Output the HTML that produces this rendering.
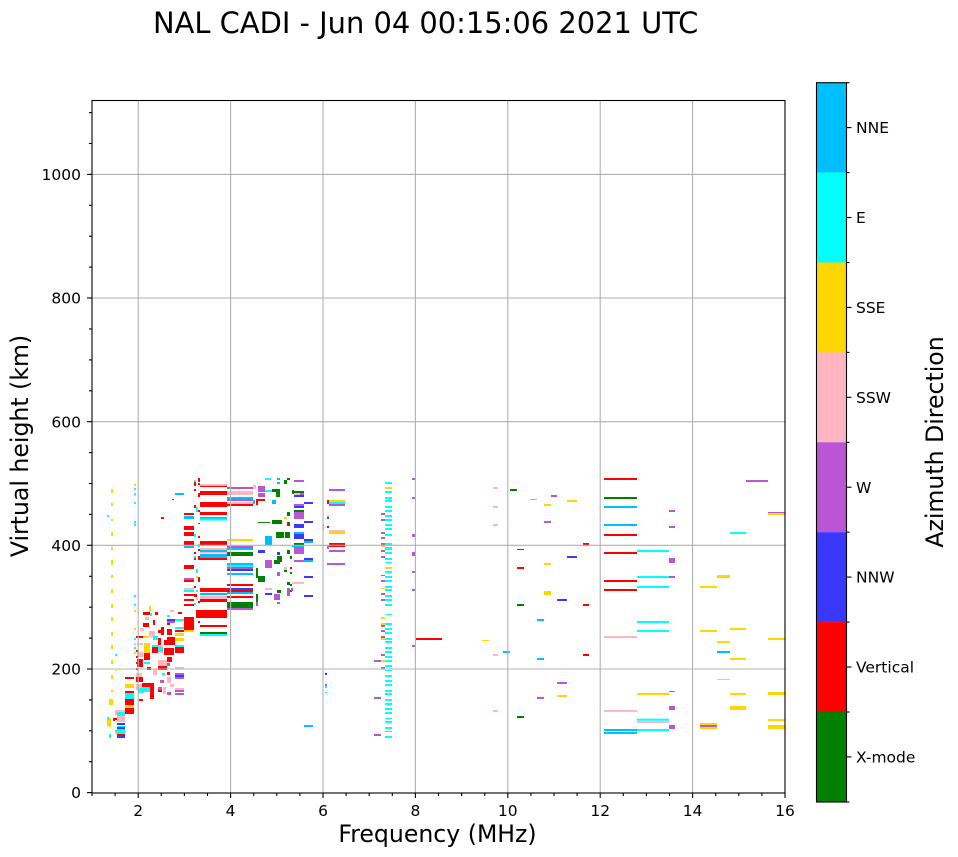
<!DOCTYPE html>
<html>
<head>
<meta charset="utf-8">
<style>
html,body{margin:0;padding:0;background:#fff;}
svg{display:block;font-family:"DejaVu Sans","Liberation Sans",sans-serif;}
.g{fill:#008000}.r{fill:#ff0000}.b{fill:#3838ff}.p{fill:#ba55d3}.k{fill:#ffb6c1}.y{fill:#ffd700}.c{fill:#00ffff}.s{fill:#00bfff}
.grid line{stroke:#b0b0b0;stroke-width:1.1}
.tk line{stroke:#000;stroke-width:1.1}
.tl{font-size:15.5px;fill:#000}
</style>
</head>
<body>
<svg width="958" height="857" viewBox="0 0 958 857" xmlns="http://www.w3.org/2000/svg">
<rect x="0" y="0" width="958" height="857" fill="#fff"/>
<text x="153" y="33" font-size="28.9" fill="#000">NAL CADI - Jun 04 00:15:06 2021 UTC</text>

<!-- DATA -->
<g>
<!-- 1.45 MHz yellow column -->
<rect class="y" x="111" y="489" width="2" height="4"/><rect class="y" x="111" y="503" width="2" height="3"/><rect class="y" x="111" y="519" width="2" height="2"/><rect class="y" x="111" y="532" width="2" height="4"/><rect class="y" x="111" y="547" width="2" height="3"/><rect class="y" x="111" y="560" width="2" height="5"/><rect class="y" x="111" y="575" width="2" height="3"/><rect class="y" x="111" y="589" width="2" height="4"/><rect class="y" x="111" y="604" width="2" height="4"/><rect class="y" x="111" y="617" width="2" height="4"/><rect class="y" x="111" y="632" width="2" height="4"/><rect class="y" x="111" y="645" width="2" height="4"/><rect class="y" x="111" y="660" width="2" height="4"/><rect class="y" x="111" y="675" width="2" height="4"/><rect class="y" x="111" y="690" width="2" height="2"/><rect class="y" x="111" y="699" width="2" height="6"/>
<!-- 1.95 column -->
<rect class="y" x="134" y="484" width="2" height="2"/><rect class="c" x="134" y="488" width="2" height="2"/><rect class="c" x="134" y="493" width="2" height="2"/><rect class="c" x="134" y="502" width="2" height="2"/><rect class="c" x="134" y="521" width="2" height="2"/><rect class="c" x="134" y="524" width="2" height="2"/><rect class="c" x="134" y="595" width="2" height="2"/><rect class="c" x="134" y="604" width="2" height="2"/><rect class="y" x="134" y="610" width="2" height="2"/><rect class="y" x="134" y="628" width="2" height="2"/><rect class="c" x="134" y="638" width="2" height="2"/><rect class="k" x="134" y="643" width="2" height="2"/><rect class="c" x="134" y="647" width="2" height="2"/><rect class="y" x="134" y="652" width="2" height="2"/>
<rect class="c" x="107" y="515" width="2" height="2"/><rect class="c" x="115" y="654" width="2" height="2"/><rect class="y" x="115" y="670" width="2" height="1"/>
<!-- low cluster -->
<rect class="r" x="125" y="677" width="9" height="2"/><rect class="y" x="125" y="684" width="9" height="4"/><rect class="r" x="125" y="691" width="9" height="2"/><rect class="c" x="125" y="693" width="9" height="6"/><rect class="r" x="125" y="699" width="9" height="6"/><rect class="y" x="125" y="705" width="9" height="3"/><rect class="r" x="125" y="708" width="9" height="6"/>
<rect class="k" x="115" y="710" width="10" height="2"/><rect class="c" x="117" y="712" width="8" height="4"/><rect class="k" x="117" y="716" width="8" height="2"/><rect class="r" x="113" y="718" width="4" height="2"/><rect class="k" x="117" y="718" width="8" height="4"/><rect class="b" x="117" y="723" width="8" height="2"/><rect class="c" x="117" y="726" width="8" height="2"/><rect class="b" x="117" y="727" width="8" height="2"/><rect class="c" x="117" y="729" width="8" height="5"/><rect class="r" x="117" y="734" width="8" height="2"/><rect class="b" x="117" y="736" width="8" height="2"/>
<rect class="y" x="109" y="699" width="2" height="6"/><rect class="y" x="107" y="718" width="4" height="8"/><rect class="c" x="107" y="717" width="2" height="3"/><rect class="y" x="109" y="722" width="2" height="5"/><rect class="c" x="109" y="734" width="2" height="4"/><rect class="c" x="115" y="730" width="2" height="4"/><rect class="y" x="115" y="732" width="2" height="2"/><rect class="k" x="115" y="710" width="2" height="5"/><rect class="r" x="113" y="719" width="2" height="2"/>
<!-- middle cluster -->
<rect class="r" x="136" y="636" width="9" height="2"/><rect class="y" x="143" y="636" width="6" height="2"/><rect class="k" x="137" y="643" width="6" height="2"/><rect class="r" x="143" y="612" width="7" height="3"/><rect class="y" x="149" y="606" width="2" height="6"/><rect class="c" x="150" y="613" width="2" height="3"/><rect class="r" x="143" y="623" width="6" height="4"/><rect class="r" x="153" y="620" width="2" height="5"/>
<rect class="c" x="167" y="615" width="3" height="2"/><rect class="b" x="167" y="619" width="8" height="2"/><rect class="c" x="175" y="619" width="9" height="2"/><rect class="p" x="167" y="621" width="8" height="2"/><rect class="r" x="167" y="623" width="3" height="2"/>
<rect class="r" x="161" y="627" width="3" height="8"/><rect class="r" x="167" y="629" width="5" height="6"/><rect class="c" x="175" y="627" width="9" height="2"/><rect class="r" x="175" y="630" width="9" height="2"/><rect class="y" x="175" y="633" width="9" height="3"/><rect class="y" x="175" y="638" width="9" height="3"/><rect class="c" x="175" y="645" width="9" height="3"/><rect class="r" x="175" y="647" width="9" height="6"/>
<rect class="k" x="149" y="631" width="6" height="6"/><rect class="c" x="153" y="636" width="5" height="4"/><rect class="r" x="158" y="638" width="3" height="7"/><rect class="r" x="164" y="640" width="3" height="5"/><rect class="r" x="167" y="637" width="8" height="8"/>
<rect class="y" x="144" y="643" width="6" height="4"/><rect class="y" x="144" y="647" width="6" height="6"/><rect class="r" x="144" y="653" width="6" height="7"/><rect class="c" x="144" y="662" width="6" height="2"/><rect class="k" x="137" y="652" width="6" height="5"/><rect class="r" x="137" y="659" width="6" height="8"/>
<rect class="c" x="152" y="645" width="7" height="8"/><rect class="r" x="152" y="647" width="7" height="6"/><rect class="k" x="158" y="646" width="5" height="7"/><rect class="c" x="158" y="647" width="5" height="5"/><rect class="r" x="164" y="648" width="10" height="7"/><rect class="r" x="167" y="657" width="5" height="5"/>
<rect class="k" x="153" y="669" width="4" height="6"/><rect class="k" x="158" y="660" width="9" height="6"/><rect class="r" x="158" y="666" width="9" height="4"/><rect class="p" x="167" y="663" width="3" height="3"/><rect class="r" x="167" y="672" width="3" height="3"/>
<rect class="k" x="175" y="667" width="9" height="2"/><rect class="p" x="175" y="673" width="9" height="6"/><rect class="b" x="175" y="675" width="9" height="2"/><rect class="k" x="167" y="677" width="4" height="6"/><rect class="k" x="175" y="688" width="9" height="2"/><rect class="p" x="175" y="690" width="9" height="2"/><rect class="p" x="175" y="693" width="9" height="2"/><rect class="p" x="167" y="692" width="4" height="3"/>
<rect class="k" x="136" y="673" width="6" height="4"/><rect class="r" x="136" y="677" width="7" height="5"/><rect class="r" x="142" y="683" width="8" height="9"/><rect class="c" x="142" y="687" width="8" height="5"/><rect class="r" x="150" y="683" width="4" height="16"/><rect class="k" x="136" y="684" width="6" height="6"/><rect class="c" x="138" y="688" width="5" height="5"/><rect class="r" x="139" y="699" width="4" height="2"/><rect class="p" x="158" y="687" width="4" height="3"/><rect class="k" x="163" y="687" width="3" height="7"/><rect class="r" x="158" y="690" width="4" height="2"/>
<rect class="r" x="136" y="650" width="2" height="2"/><rect class="r" x="136" y="656" width="2" height="2"/><rect class="r" x="136" y="662" width="2" height="2"/><rect class="r" x="136" y="668" width="2" height="2"/>
<rect class="k" x="145" y="617" width="4" height="3"/><rect class="r" x="155" y="612" width="3" height="3"/><rect class="k" x="170" y="610" width="4" height="2"/><rect class="r" x="178" y="612" width="4" height="2"/><rect class="p" x="160" y="680" width="4" height="3"/><rect class="k" x="170" y="684" width="4" height="3"/><rect class="r" x="147" y="667" width="4" height="3"/><rect class="c" x="162" y="673" width="3" height="2"/><rect class="k" x="140" y="628" width="4" height="3"/><rect class="r" x="158" y="630" width="3" height="3"/>
<rect class="r" x="161" y="517" width="3" height="2"/><rect class="r" x="172" y="499" width="2" height="1"/><rect class="s" x="175" y="493" width="9" height="2"/>
<!-- 3.0-3.2 column -->
<rect class="r" x="184" y="513" width="10" height="2"/><rect class="s" x="184" y="516" width="10" height="3"/><rect class="r" x="184" y="526" width="10" height="4"/><rect class="r" x="184" y="532" width="10" height="4"/><rect class="r" x="184" y="541" width="10" height="4"/><rect class="s" x="184" y="546" width="10" height="2"/><rect class="r" x="184" y="565" width="10" height="4"/><rect class="p" x="184" y="578" width="10" height="2"/><rect class="r" x="184" y="580" width="10" height="2"/><rect class="k" x="184" y="588" width="10" height="2"/><rect class="c" x="184" y="590" width="10" height="2"/><rect class="r" x="184" y="594" width="10" height="2"/><rect class="r" x="184" y="599" width="10" height="2"/><rect class="r" x="184" y="604" width="10" height="2"/><rect class="r" x="184" y="617" width="10" height="13"/><rect class="y" x="184" y="630" width="10" height="2"/>
<!-- 3.2-3.4 column -->
<rect class="r" x="198" y="478" width="2" height="4"/><rect class="c" x="194" y="480" width="2" height="2"/><rect class="r" x="194" y="482" width="2" height="4"/><rect class="r" x="198" y="483" width="2" height="2"/><rect class="r" x="194" y="489" width="2" height="2"/><rect class="r" x="198" y="493" width="2" height="4"/><rect class="r" x="194" y="505" width="2" height="3"/><rect class="c" x="196" y="507" width="2" height="5"/><rect class="r" x="198" y="510" width="2" height="2"/><rect class="r" x="198" y="523" width="2" height="1"/><rect class="c" x="194" y="534" width="2" height="3"/><rect class="r" x="198" y="536" width="2" height="2"/><rect class="c" x="198" y="544" width="2" height="3"/><rect class="r" x="198" y="549" width="2" height="2"/><rect class="r" x="194" y="552" width="2" height="2"/><rect class="r" x="198" y="556" width="2" height="4"/><rect class="c" x="194" y="556" width="2" height="2"/><rect class="r" x="194" y="558" width="2" height="2"/><rect class="c" x="196" y="569" width="2" height="4"/><rect class="r" x="198" y="577" width="2" height="5"/><rect class="y" x="196" y="576" width="2" height="2"/><rect class="r" x="194" y="586" width="2" height="2"/><rect class="c" x="196" y="590" width="2" height="2"/><rect class="r" x="194" y="594" width="3" height="3"/><rect class="k" x="196" y="598" width="2" height="2"/><rect class="r" x="198" y="601" width="2" height="2"/><rect class="c" x="194" y="603" width="2" height="2"/><rect class="r" x="196" y="610" width="4" height="8"/><rect class="r" x="198" y="621" width="2" height="2"/>
<!-- 3.4-4.0 block -->
<rect class="k" x="200" y="484" width="27" height="2"/><rect class="r" x="200" y="486" width="27" height="1"/><rect class="r" x="200" y="491" width="27" height="4"/><rect class="r" x="200" y="502" width="27" height="5"/><rect class="r" x="200" y="512" width="27" height="3"/><rect class="s" x="200" y="517" width="27" height="1.5"/><rect class="c" x="200" y="518.5" width="27" height="2"/><rect class="r" x="200" y="541" width="27" height="4"/><rect class="k" x="200" y="548" width="27" height="2"/><rect class="s" x="200" y="550" width="27" height="2"/><rect class="k" x="200" y="552" width="27" height="1.5"/><rect class="s" x="200" y="554" width="27" height="4"/><rect class="r" x="200" y="558" width="27" height="2"/><rect class="r" x="200" y="588" width="27" height="3"/><rect class="b" x="200" y="591" width="27" height="1"/><rect class="s" x="200" y="593" width="27" height="2"/><rect class="k" x="200" y="596" width="27" height="3"/><rect class="r" x="200" y="599" width="27" height="3"/><rect class="r" x="200" y="610" width="27" height="4"/><rect class="r" x="200" y="614" width="27" height="4"/><rect class="r" x="200" y="625" width="27" height="2"/><rect class="g" x="200" y="632" width="27" height="2"/><rect class="c" x="200" y="634" width="27" height="2"/>
<!-- 4.0-4.6 block -->
<rect class="p" x="227" y="487" width="26" height="2"/><rect class="k" x="227" y="491" width="26" height="4"/><rect class="s" x="227" y="497" width="26" height="2"/><rect class="p" x="227" y="499" width="26" height="2"/><rect class="k" x="227" y="502" width="26" height="2"/><rect class="r" x="227" y="504" width="26" height="2"/><rect class="y" x="227" y="539" width="26" height="2"/><rect class="p" x="227" y="546" width="26" height="2"/><rect class="s" x="227" y="548" width="26" height="2"/><rect class="g" x="227" y="552" width="26" height="4"/><rect class="s" x="227" y="563" width="26" height="2"/><rect class="c" x="227" y="565" width="26" height="2"/><rect class="p" x="227" y="567" width="26" height="2"/><rect class="b" x="227" y="569" width="26" height="2"/><rect class="s" x="227" y="573" width="26" height="2"/><rect class="r" x="227" y="584" width="26" height="2"/><rect class="b" x="227" y="588" width="26" height="2"/><rect class="r" x="227" y="590" width="26" height="2"/><rect class="s" x="227" y="592" width="26" height="2"/><rect class="r" x="227" y="596" width="26" height="2"/><rect class="g" x="227" y="602" width="26" height="6"/><rect class="p" x="227" y="608" width="26" height="2"/>
<!-- 4.6-5.7 scattered -->
<rect class="g" x="272" y="520" width="10" height="4"/><rect class="g" x="258" y="522" width="12" height="1"/><rect class="g" x="276" y="532" width="8" height="6"/><rect class="g" x="285" y="532" width="5" height="6"/><rect class="g" x="287" y="512" width="3" height="4"/><rect class="g" x="287" y="522" width="3" height="4"/><rect class="g" x="277" y="556" width="5" height="6"/><rect class="g" x="274" y="560" width="6" height="4"/><rect class="g" x="258" y="576" width="7" height="6"/><rect class="g" x="256" y="568" width="2" height="10"/><rect class="g" x="287" y="550" width="3" height="4"/><rect class="g" x="284" y="569" width="3" height="3"/><rect class="g" x="287" y="582" width="3" height="3"/><rect class="g" x="256" y="594" width="2" height="8"/><rect class="g" x="277" y="590" width="4" height="3"/><rect class="g" x="272" y="489" width="8" height="3"/><rect class="g" x="276" y="492" width="4" height="5"/><rect class="g" x="287" y="478" width="3" height="2"/><rect class="g" x="284" y="480" width="3" height="4"/><rect class="g" x="292" y="491" width="12" height="2"/><rect class="g" x="292" y="490" width="2" height="4"/><rect class="g" x="294" y="510" width="10" height="2"/><rect class="g" x="294" y="543" width="10" height="2"/><rect class="g" x="290" y="556" width="2" height="3"/><rect class="g" x="290" y="572" width="2" height="2"/><rect class="g" x="290" y="584" width="2" height="2"/><rect class="g" x="290" y="590" width="2" height="2"/>
<rect class="p" x="265" y="560" width="7" height="8"/><rect class="p" x="277" y="572" width="3" height="4"/><rect class="p" x="287" y="588" width="3" height="8"/><rect class="p" x="274" y="594" width="6" height="6"/><rect class="p" x="277" y="602" width="3" height="2"/><rect class="p" x="294" y="512" width="10" height="7"/><rect class="p" x="294" y="547" width="10" height="7"/><rect class="p" x="294" y="560" width="10" height="2"/><rect class="p" x="256" y="602" width="2" height="4"/><rect class="p" x="258" y="486" width="7" height="6"/><rect class="p" x="258" y="493" width="7" height="4"/><rect class="p" x="294" y="480" width="10" height="2"/><rect class="p" x="294" y="493" width="10" height="2"/><rect class="p" x="294" y="504" width="10" height="2"/><rect class="p" x="291" y="588" width="2" height="3"/>
<rect class="b" x="294" y="524" width="10" height="4"/><rect class="b" x="294" y="534" width="10" height="5"/><rect class="b" x="258" y="550" width="7" height="3"/><rect class="b" x="265" y="593" width="7" height="2"/><rect class="b" x="277" y="552" width="3" height="3"/><rect class="b" x="294" y="495" width="10" height="2"/><rect class="b" x="294" y="506" width="10" height="2"/>
<rect class="b" x="304" y="502" width="9" height="2"/><rect class="b" x="304" y="521" width="9" height="2"/><rect class="b" x="304" y="539" width="9" height="2"/><rect class="b" x="304" y="558" width="9" height="2"/><rect class="b" x="304" y="576" width="9" height="2"/><rect class="b" x="304" y="595" width="9" height="2"/>
<rect class="s" x="265" y="536" width="7" height="9"/><rect class="s" x="272" y="500" width="4" height="4"/><rect class="s" x="294" y="532" width="10" height="2"/><rect class="s" x="304" y="541" width="9" height="2"/><rect class="s" x="304" y="560" width="9" height="2"/><rect class="s" x="292" y="545" width="12" height="2"/><rect class="s" x="253" y="500" width="2" height="4"/><rect class="s" x="277" y="478" width="3" height="2"/><rect class="s" x="277" y="482" width="3" height="2"/><rect class="s" x="304" y="725" width="9" height="2"/>
<rect class="c" x="265" y="478" width="6" height="2"/><rect class="c" x="265" y="490" width="7" height="2"/>
<rect class="k" x="265" y="588" width="7" height="2"/><rect class="k" x="292" y="582" width="12" height="2"/><rect class="k" x="284" y="567" width="3" height="3"/><rect class="k" x="253" y="485" width="3" height="4"/><rect class="k" x="294" y="493" width="6" height="2"/>
<rect class="r" x="256" y="499" width="2" height="6"/><rect class="r" x="287" y="524" width="2" height="2"/><rect class="r" x="258" y="499" width="7" height="2"/><rect class="r" x="290" y="567" width="2" height="2"/>
<rect class="y" x="284" y="517" width="3" height="2"/>
<!-- 6.0-6.5 -->
<rect class="p" x="329" y="489" width="16" height="2"/><rect class="r" x="327" y="500" width="2" height="4"/><rect class="y" x="329" y="500" width="16" height="2"/><rect class="c" x="329" y="502" width="16" height="2"/><rect class="p" x="329" y="504" width="16" height="2"/><rect class="k" x="327" y="515" width="2" height="2"/><rect class="b" x="327" y="517" width="2" height="2"/><rect class="r" x="327" y="526" width="2" height="2"/><rect class="k" x="329" y="530" width="16" height="2"/><rect class="y" x="329" y="532" width="16" height="2"/><rect class="r" x="329" y="543" width="16" height="2"/><rect class="r" x="329" y="545" width="16" height="2"/><rect class="p" x="327" y="546" width="2" height="3"/><rect class="p" x="329" y="550" width="16" height="2"/><rect class="p" x="327" y="563" width="18" height="2"/><rect class="c" x="323" y="524" width="1" height="6"/>
<rect class="b" x="325" y="673" width="2" height="2"/><rect class="p" x="325" y="684" width="2" height="2"/><rect class="c" x="325" y="686" width="2" height="2"/><rect class="c" x="325" y="692" width="2" height="1"/>
<!-- 7.3 column -->
<rect class="c" x="385" y="482" width="7" height="2"/><rect class="c" x="385" y="491" width="7" height="2"/><rect class="c" x="385" y="497" width="7" height="2"/><rect class="c" x="385" y="500" width="7" height="2"/><rect class="c" x="385" y="506" width="7" height="2"/><rect class="c" x="385" y="510" width="7" height="2"/><rect class="c" x="385" y="515" width="7" height="2"/><rect class="c" x="385" y="519" width="7" height="2"/><rect class="c" x="385" y="524" width="7" height="2"/><rect class="c" x="385" y="528" width="7" height="2"/><rect class="c" x="385" y="534" width="7" height="2"/><rect class="c" x="385" y="543" width="7" height="2"/><rect class="c" x="385" y="547" width="7" height="3"/><rect class="c" x="385" y="552" width="7" height="2"/><rect class="c" x="385" y="558" width="7" height="2"/><rect class="c" x="385" y="562" width="7" height="1"/><rect class="c" x="385" y="571" width="7" height="2"/><rect class="c" x="385" y="576" width="7" height="2"/><rect class="c" x="385" y="580" width="7" height="2"/><rect class="c" x="385" y="586" width="7" height="2"/><rect class="c" x="385" y="589" width="7" height="2"/><rect class="c" x="385" y="595" width="7" height="2"/><rect class="c" x="385" y="599" width="7" height="2"/><rect class="c" x="385" y="604" width="7" height="2"/><rect class="c" x="385" y="614" width="7" height="1"/><rect class="c" x="385" y="623" width="7" height="2"/><rect class="c" x="385" y="628" width="7" height="2"/><rect class="c" x="385" y="632" width="7" height="2"/><rect class="c" x="385" y="638" width="7" height="2"/><rect class="c" x="385" y="641" width="7" height="2"/><rect class="c" x="385" y="647" width="7" height="2"/><rect class="c" x="385" y="651" width="7" height="2"/><rect class="c" x="385" y="656" width="7" height="2"/><rect class="c" x="385" y="660" width="7" height="2"/><rect class="c" x="385" y="665" width="7" height="2"/><rect class="c" x="385" y="670" width="7" height="1"/><rect class="c" x="385" y="675" width="7" height="2"/><rect class="c" x="385" y="680" width="7" height="2"/><rect class="c" x="385" y="684" width="7" height="2"/><rect class="c" x="385" y="690" width="7" height="2"/><rect class="c" x="385" y="693" width="7" height="2"/><rect class="c" x="385" y="699" width="7" height="2"/><rect class="c" x="385" y="703" width="7" height="2"/><rect class="c" x="385" y="708" width="7" height="2"/><rect class="c" x="385" y="712" width="7" height="2"/><rect class="c" x="385" y="718" width="7" height="1"/><rect class="c" x="385" y="721" width="7" height="2"/><rect class="c" x="385" y="727" width="7" height="2"/><rect class="c" x="385" y="731" width="7" height="1"/><rect class="c" x="385" y="736" width="7" height="2"/>
<rect class="y" x="385" y="487" width="7" height="2"/><rect class="y" x="385" y="567" width="7" height="2"/>
<rect class="p" x="381" y="513" width="4" height="2"/><rect class="p" x="381" y="519" width="4" height="2"/><rect class="p" x="381" y="532" width="4" height="2"/><rect class="p" x="381" y="537" width="4" height="2"/><rect class="p" x="381" y="543" width="4" height="2"/><rect class="p" x="381" y="550" width="4" height="2"/><rect class="p" x="381" y="556" width="4" height="2"/><rect class="p" x="381" y="575" width="4" height="1"/><rect class="p" x="381" y="580" width="4" height="2"/><rect class="p" x="381" y="593" width="4" height="2"/><rect class="p" x="381" y="599" width="4" height="2"/><rect class="p" x="381" y="624" width="4" height="3"/><rect class="p" x="381" y="630" width="4" height="2"/><rect class="p" x="381" y="636" width="4" height="2"/><rect class="p" x="381" y="654" width="4" height="2"/><rect class="p" x="381" y="667" width="4" height="2"/>
<rect class="y" x="381" y="545" width="4" height="2"/><rect class="y" x="381" y="588" width="4" height="1"/><rect class="y" x="381" y="617" width="4" height="2"/><rect class="y" x="381" y="623" width="4" height="2"/><rect class="y" x="381" y="638" width="4" height="2"/><rect class="y" x="381" y="660" width="4" height="2"/>
<rect class="p" x="374" y="660" width="7" height="2"/><rect class="p" x="374" y="697" width="7" height="2"/><rect class="p" x="374" y="734" width="7" height="2"/>
<!-- 8 MHz -->
<rect class="p" x="412" y="478" width="3" height="2"/><rect class="p" x="412" y="497" width="3" height="2"/><rect class="p" x="412" y="534" width="3" height="3"/><rect class="p" x="412" y="552" width="3" height="4"/><rect class="p" x="412" y="571" width="3" height="2"/><rect class="p" x="412" y="589" width="3" height="2"/><rect class="p" x="412" y="645" width="3" height="2"/><rect class="r" x="416" y="638" width="26" height="2"/>
<!-- 9.5 - 12 MHz -->
<rect class="k" x="493" y="487" width="5" height="2"/><rect class="k" x="493" y="506" width="5" height="2"/><rect class="k" x="493" y="524" width="5" height="2"/><rect class="k" x="493" y="654" width="5" height="2"/><rect class="k" x="493" y="710" width="5" height="2"/>
<rect class="g" x="510" y="489" width="7" height="2"/><rect class="c" x="530" y="499" width="7" height="1"/><rect class="p" x="551" y="495" width="6" height="2"/><rect class="y" x="567" y="500" width="10" height="2"/><rect class="y" x="544" y="504" width="7" height="2"/><rect class="p" x="544" y="521" width="7" height="2"/><rect class="r" x="583" y="543" width="6" height="2"/><rect class="r" x="517" y="549" width="7" height="1"/><rect class="b" x="567" y="556" width="10" height="2"/><rect class="y" x="544" y="563" width="7" height="2"/><rect class="r" x="517" y="567" width="7" height="2"/><rect class="y" x="544" y="591" width="7" height="4"/><rect class="b" x="557" y="599" width="10" height="2"/><rect class="g" x="517" y="604" width="7" height="2"/><rect class="r" x="583" y="604" width="6" height="2"/><rect class="s" x="537" y="619" width="7" height="2"/><rect class="y" x="482" y="640" width="7" height="1"/><rect class="s" x="503" y="651" width="7" height="2"/><rect class="s" x="537" y="658" width="7" height="2"/><rect class="r" x="583" y="654" width="6" height="2"/><rect class="p" x="557" y="682" width="10" height="2"/><rect class="y" x="557" y="695" width="10" height="2"/><rect class="p" x="537" y="697" width="7" height="2"/><rect class="g" x="517" y="716" width="7" height="2"/>
<!-- 12 - 16 MHz -->
<rect class="r" x="604" y="478" width="33" height="2"/><rect class="g" x="604" y="497" width="33" height="2"/><rect class="s" x="604" y="506" width="33" height="2"/><rect class="s" x="604" y="524" width="33" height="2"/><rect class="r" x="604" y="534" width="33" height="2"/><rect class="r" x="604" y="552" width="33" height="2"/><rect class="r" x="604" y="580" width="33" height="2"/><rect class="r" x="604" y="589" width="33" height="2"/><rect class="k" x="604" y="636" width="33" height="2"/><rect class="k" x="604" y="710" width="33" height="2"/><rect class="s" x="604" y="729" width="33" height="2"/><rect class="s" x="604" y="732" width="33" height="2"/>
<rect class="c" x="637" y="550" width="32" height="2"/><rect class="c" x="637" y="576" width="32" height="2"/><rect class="c" x="637" y="586" width="32" height="2"/><rect class="c" x="637" y="621" width="32" height="2"/><rect class="c" x="637" y="630" width="32" height="2"/><rect class="y" x="637" y="693" width="32" height="2"/><rect class="c" x="637" y="718.7" width="32" height="2"/><rect class="k" x="637" y="721" width="32" height="2"/><rect class="c" x="637" y="729" width="32" height="2"/>
<rect class="p" x="669" y="510" width="6" height="2"/><rect class="p" x="669" y="526" width="6" height="2"/><rect class="p" x="669" y="558" width="6" height="5"/><rect class="p" x="669" y="576" width="6" height="2"/><rect class="p" x="669" y="691" width="6" height="1"/><rect class="p" x="669" y="706" width="6" height="4"/><rect class="p" x="669" y="725" width="6" height="4"/>
<rect class="p" x="746" y="480" width="22" height="2"/><rect class="p" x="768" y="512" width="17" height="1"/><rect class="y" x="768" y="513" width="17" height="2"/><rect class="c" x="730" y="532" width="16" height="2"/><rect class="y" x="717" y="575" width="13" height="3"/><rect class="y" x="700" y="586" width="17" height="2"/><rect class="y" x="700" y="630" width="17" height="2"/><rect class="y" x="730" y="628" width="16" height="2"/><rect class="y" x="768" y="638" width="17" height="2"/><rect class="y" x="717" y="641" width="13" height="2"/><rect class="s" x="717" y="651" width="13" height="2"/><rect class="y" x="730" y="658" width="16" height="2"/><rect class="y" x="717" y="679" width="13" height="1"/><rect class="y" x="730" y="693" width="16" height="2"/><rect class="y" x="768" y="692" width="17" height="3"/><rect class="y" x="730" y="706" width="16" height="4"/><rect class="y" x="768" y="719" width="17" height="2"/><rect class="y" x="768" y="725" width="17" height="4"/><rect class="y" x="700" y="723" width="17" height="2"/><rect class="p" x="700" y="725" width="17" height="2"/><rect class="y" x="700" y="727" width="17" height="2"/>
</g>

<!-- GRID (on top) -->
<g class="grid">
<line x1="138.2" y1="100" x2="138.2" y2="793"/><line x1="230.6" y1="100" x2="230.6" y2="793"/><line x1="323" y1="100" x2="323" y2="793"/><line x1="415.4" y1="100" x2="415.4" y2="793"/><line x1="507.8" y1="100" x2="507.8" y2="793"/><line x1="600.2" y1="100" x2="600.2" y2="793"/><line x1="692.6" y1="100" x2="692.6" y2="793"/>
<line x1="92" y1="669" x2="785" y2="669"/><line x1="92" y1="545.3" x2="785" y2="545.3"/><line x1="92" y1="421.7" x2="785" y2="421.7"/><line x1="92" y1="298" x2="785" y2="298"/><line x1="92" y1="174.4" x2="785" y2="174.4"/>
</g>

<!-- AXES FRAME -->
<rect x="92" y="100.5" width="693" height="692.5" fill="none" stroke="#000" stroke-width="1.1"/>

<!-- X TICKS -->
<g class="tk">
<line x1="138.2" y1="793" x2="138.2" y2="798"/><line x1="230.6" y1="793" x2="230.6" y2="798"/><line x1="323" y1="793" x2="323" y2="798"/><line x1="415.4" y1="793" x2="415.4" y2="798"/><line x1="507.8" y1="793" x2="507.8" y2="798"/><line x1="600.2" y1="793" x2="600.2" y2="798"/><line x1="692.6" y1="793" x2="692.6" y2="798"/><line x1="785" y1="793" x2="785" y2="798"/>
<line x1="92" y1="793" x2="92" y2="796"/><line x1="115.1" y1="793" x2="115.1" y2="796"/><line x1="161.3" y1="793" x2="161.3" y2="796"/><line x1="184.4" y1="793" x2="184.4" y2="796"/><line x1="207.5" y1="793" x2="207.5" y2="796"/><line x1="253.7" y1="793" x2="253.7" y2="796"/><line x1="276.8" y1="793" x2="276.8" y2="796"/><line x1="299.9" y1="793" x2="299.9" y2="796"/><line x1="346.1" y1="793" x2="346.1" y2="796"/><line x1="369.2" y1="793" x2="369.2" y2="796"/><line x1="392.3" y1="793" x2="392.3" y2="796"/><line x1="438.5" y1="793" x2="438.5" y2="796"/><line x1="461.6" y1="793" x2="461.6" y2="796"/><line x1="484.7" y1="793" x2="484.7" y2="796"/><line x1="530.9" y1="793" x2="530.9" y2="796"/><line x1="554" y1="793" x2="554" y2="796"/><line x1="577.1" y1="793" x2="577.1" y2="796"/><line x1="623.3" y1="793" x2="623.3" y2="796"/><line x1="646.4" y1="793" x2="646.4" y2="796"/><line x1="669.5" y1="793" x2="669.5" y2="796"/><line x1="715.7" y1="793" x2="715.7" y2="796"/><line x1="738.8" y1="793" x2="738.8" y2="796"/><line x1="761.9" y1="793" x2="761.9" y2="796"/>
<!-- Y TICKS -->
<line x1="87" y1="792.6" x2="92" y2="792.6"/><line x1="87" y1="669" x2="92" y2="669"/><line x1="87" y1="545.3" x2="92" y2="545.3"/><line x1="87" y1="421.7" x2="92" y2="421.7"/><line x1="87" y1="298" x2="92" y2="298"/><line x1="87" y1="174.4" x2="92" y2="174.4"/>
<line x1="89" y1="761.7" x2="92" y2="761.7"/><line x1="89" y1="730.8" x2="92" y2="730.8"/><line x1="89" y1="699.9" x2="92" y2="699.9"/><line x1="89" y1="638.1" x2="92" y2="638.1"/><line x1="89" y1="607.2" x2="92" y2="607.2"/><line x1="89" y1="576.3" x2="92" y2="576.3"/><line x1="89" y1="514.4" x2="92" y2="514.4"/><line x1="89" y1="483.5" x2="92" y2="483.5"/><line x1="89" y1="452.6" x2="92" y2="452.6"/><line x1="89" y1="390.8" x2="92" y2="390.8"/><line x1="89" y1="359.9" x2="92" y2="359.9"/><line x1="89" y1="329" x2="92" y2="329"/><line x1="89" y1="267.1" x2="92" y2="267.1"/><line x1="89" y1="236.2" x2="92" y2="236.2"/><line x1="89" y1="205.3" x2="92" y2="205.3"/><line x1="89" y1="143.5" x2="92" y2="143.5"/><line x1="89" y1="112.6" x2="92" y2="112.6"/>
</g>

<!-- TICK LABELS -->
<g class="tl" text-anchor="middle">
<text x="138.2" y="816">2</text><text x="230.6" y="816">4</text><text x="323" y="816">6</text><text x="415.4" y="816">8</text><text x="507.8" y="816">10</text><text x="600.2" y="816">12</text><text x="692.6" y="816">14</text><text x="785" y="816">16</text>
</g>
<g class="tl" text-anchor="end">
<text x="81" y="798.2">0</text><text x="81" y="674.6">200</text><text x="81" y="551">400</text><text x="81" y="427.3">600</text><text x="81" y="303.6">800</text><text x="81" y="180">1000</text>
</g>

<!-- AXIS LABELS -->
<text x="437.5" y="842" font-size="23.6" text-anchor="middle">Frequency (MHz)</text>
<text transform="translate(28,446) rotate(-90)" font-size="23.6" text-anchor="middle">Virtual height (km)</text>

<!-- COLORBAR -->
<rect x="816.5" y="82.7" width="30" height="90" fill="#00bfff"/>
<rect x="816.5" y="172.6" width="30" height="90" fill="#00ffff"/>
<rect x="816.5" y="262.5" width="30" height="90" fill="#ffd700"/>
<rect x="816.5" y="352.4" width="30" height="90" fill="#ffb6c1"/>
<rect x="816.5" y="442.3" width="30" height="90" fill="#ba55d3"/>
<rect x="816.5" y="532.2" width="30" height="90" fill="#3838ff"/>
<rect x="816.5" y="622.1" width="30" height="90" fill="#ff0000"/>
<rect x="816.5" y="712" width="30" height="90" fill="#008000"/>
<rect x="816.5" y="82.7" width="30" height="719.3" fill="none" stroke="#000" stroke-width="1.1"/>
<g class="tk">
<line x1="846.5" y1="127.6" x2="851.5" y2="127.6"/><line x1="846.5" y1="217.5" x2="851.5" y2="217.5"/><line x1="846.5" y1="307.4" x2="851.5" y2="307.4"/><line x1="846.5" y1="397.3" x2="851.5" y2="397.3"/><line x1="846.5" y1="487.2" x2="851.5" y2="487.2"/><line x1="846.5" y1="577.1" x2="851.5" y2="577.1"/><line x1="846.5" y1="667" x2="851.5" y2="667"/><line x1="846.5" y1="756.9" x2="851.5" y2="756.9"/>
<line x1="846.5" y1="82.7" x2="849.5" y2="82.7"/><line x1="846.5" y1="172.6" x2="849.5" y2="172.6"/><line x1="846.5" y1="262.5" x2="849.5" y2="262.5"/><line x1="846.5" y1="352.4" x2="849.5" y2="352.4"/><line x1="846.5" y1="442.3" x2="849.5" y2="442.3"/><line x1="846.5" y1="532.2" x2="849.5" y2="532.2"/><line x1="846.5" y1="622.1" x2="849.5" y2="622.1"/><line x1="846.5" y1="712" x2="849.5" y2="712"/><line x1="846.5" y1="802" x2="849.5" y2="802"/>
</g>
<g class="tl">
<text x="856" y="133.2">NNE</text><text x="856" y="223.1">E</text><text x="856" y="313">SSE</text><text x="856" y="402.9">SSW</text><text x="856" y="492.8">W</text><text x="856" y="582.7">NNW</text><text x="856" y="672.6">Vertical</text><text x="856" y="762.5">X-mode</text>
</g>
<text transform="translate(943,442) rotate(-90)" font-size="23.6" text-anchor="middle">Azimuth Direction</text>
</svg>
</body>
</html>
